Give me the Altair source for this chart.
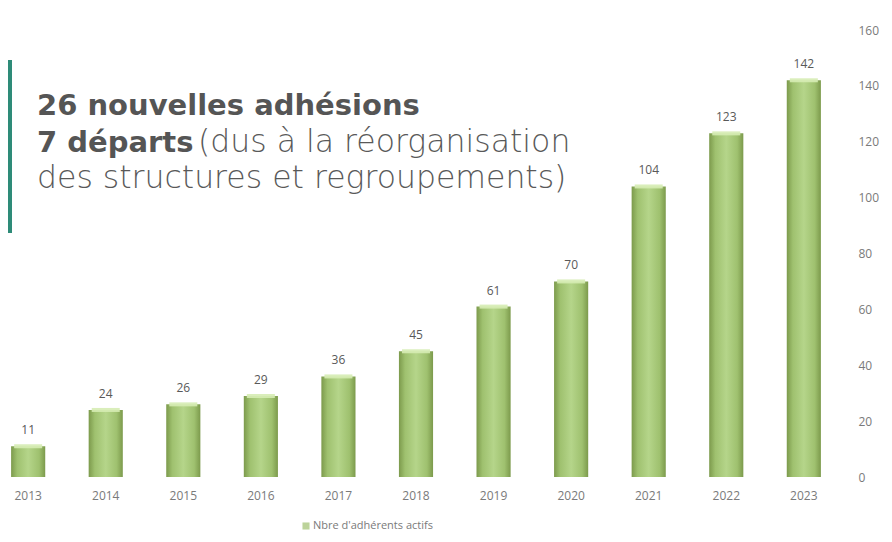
import altair as alt
import pandas as pd

years = ["2013", "2014", "2015", "2016", "2017", "2018", "2019", "2020", "2021", "2022", "2023"]
members = [11, 24, 26, 29, 36, 45, 61, 70, 104, 123, 142]
y_ticks = [0, 20, 40, 60, 80, 100, 120, 140, 160]
series_name = "Nbre d'adhérents actifs"
line1 = "26 nouvelles adhésions"
line2_bold = "7 départs"
line2_rest = "(dus à la réorganisation"
line3 = "des structures et regroupements)"

df = pd.DataFrame({"year": years, "value": members})

W, H = 816, 447
TEXT = "#595959"
HEAD = "#555555"

x_enc = alt.X("year:N", sort=years,
              scale=alt.Scale(paddingInner=0.56, paddingOuter=0.04),
              axis=alt.Axis(title=None, labelAngle=0, ticks=False, domain=False,
                            labelPadding=13, labelFont="Open Sans", labelFontSize=12,
                            labelColor="#7a7a7a", grid=False))
y_enc = alt.Y("value:Q", scale=alt.Scale(domain=[0, 160], nice=False),
              axis=alt.Axis(title=None, orient="right", values=y_ticks, ticks=False,
                            domain=False, grid=False, labelPadding=34,
                            labelFont="Open Sans", labelFontSize=12, labelColor="#7a7a7a"))

grad = alt.Gradient(
    gradient="linear", x1=0, x2=1, y1=0, y2=0,
    stops=[alt.GradientStop(color="#7c9a4c", offset=0),
           alt.GradientStop(color="#9fc16f", offset=0.18),
           alt.GradientStop(color="#b5d58a", offset=0.5),
           alt.GradientStop(color="#9fc16f", offset=0.82),
           alt.GradientStop(color="#7c9a4c", offset=1)])

base = alt.Chart(df)
bars = base.mark_bar(color=grad).encode(x=x_enc, y=y_enc)
caps = base.mark_tick(color="#d6ecb4", thickness=4, size=28, opacity=0.9).encode(
    x=alt.X("year:N", sort=years), y="value:Q")
labels = base.mark_text(baseline="bottom", dy=-9, font="Open Sans", fontSize=12,
                        color=TEXT).encode(x=alt.X("year:N", sort=years), y="value:Q",
                                           text="value:Q")

ann = pd.DataFrame({"d": [0]})
teal = alt.Chart(ann).mark_rect(color="#2e8b78").encode(
    x=alt.value(0), x2=alt.value(4), y=alt.value(30), y2=alt.value(203))
t1 = alt.Chart(ann).mark_text(align="left", baseline="alphabetic", font="DejaVu Sans",
                              fontSize=29, fontWeight="bold", color=HEAD).encode(
    x=alt.value(29), y=alt.value(85), text=alt.value(line1))
t2a = alt.Chart(ann).mark_text(align="left", baseline="alphabetic", font="DejaVu Sans",
                               fontSize=29, fontWeight="bold", color=HEAD).encode(
    x=alt.value(29), y=alt.value(122), text=alt.value(line2_bold))
t2b = alt.Chart(ann).mark_text(align="left", baseline="alphabetic", font="DejaVu Sans",
                               fontSize=31.5, fontWeight=300, color=TEXT).encode(
    x=alt.value(190), y=alt.value(122), text=alt.value(line2_rest))
t3 = alt.Chart(ann).mark_text(align="left", baseline="alphabetic", font="DejaVu Sans",
                              fontSize=31.5, fontWeight=300, color=TEXT).encode(
    x=alt.value(29), y=alt.value(158), text=alt.value(line3))
leg_sq = alt.Chart(ann).mark_square(color="#9fc16f", size=50).encode(
    x=alt.value(298), y=alt.value(496))
leg_tx = alt.Chart(ann).mark_text(align="left", baseline="middle", font="Open Sans",
                                  fontSize=11, color="#7a7a7a").encode(
    x=alt.value(305), y=alt.value(496), text=alt.value(series_name))

chart = alt.layer(bars, caps, labels, teal, t1, t2a, t2b, t3, leg_sq, leg_tx).properties(
    width=W, height=H,
    background="white",
    autosize=alt.AutoSizeParams(type="none"),
    padding={"top": 22, "left": 0, "right": 60, "bottom": 55},
).configure_view(stroke=None, strokeWidth=0)

chart.save("out.html", embed_options={"renderer": "svg", "actions": False})
